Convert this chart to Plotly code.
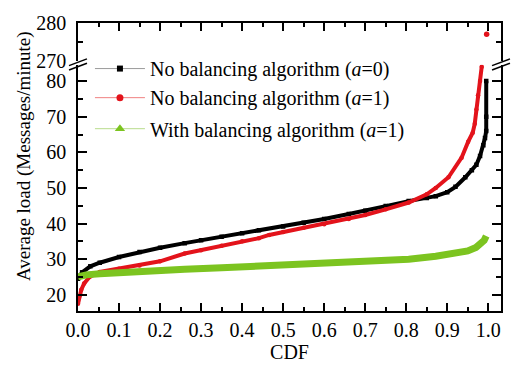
import plotly.graph_objects as go

# ---- data ----
black_cdf = [0.0, 0.01, 0.03, 0.053, 0.1, 0.15, 0.2, 0.26, 0.3, 0.35, 0.4, 0.441, 0.5, 0.55, 0.6,
             0.66, 0.7, 0.75, 0.806, 0.85, 0.872, 0.9, 0.92, 0.944, 0.96, 0.971, 0.98, 0.988,
             0.992, 0.995, 0.995, 0.995]
black_load = [24.5, 26.3, 28.0, 29.0, 30.6, 32.0, 33.2, 34.5, 35.3, 36.3, 37.3, 38.1, 39.2, 40.2, 41.3,
              42.7, 43.6, 44.9, 46.3, 47.2, 47.7, 48.8, 50.3, 53.0, 55.0, 56.5, 59.0, 62.0,
              64.0, 66.0, 70.0, 80.0]

red_cdf = [0.0, 0.003, 0.008, 0.015, 0.028, 0.053, 0.1, 0.15, 0.2, 0.26, 0.3, 0.35, 0.4, 0.441,
           0.466, 0.5, 0.55, 0.6, 0.66, 0.7, 0.75, 0.806, 0.85, 0.872, 0.903, 0.935, 0.951,
           0.962, 0.967, 0.971, 0.975, 0.98, 0.984]
red_load = [17.5, 19.5, 21.4, 23.2, 25.0, 26.4, 27.3, 28.2, 29.4, 31.6, 32.5, 33.8, 35.0, 35.9,
            36.8, 37.6, 38.8, 39.8, 41.3, 42.4, 44.0, 45.9, 48.2, 50.0, 53.0, 58.5, 63.0,
            65.5, 68.0, 72.0, 76.0, 80.0, 84.0]
red_top_cdf = [0.996]
red_top_load = [277.0]

green_cdf = [0.0, 0.02, 0.053, 0.1, 0.2, 0.26, 0.35, 0.441, 0.5, 0.58, 0.66, 0.73, 0.806, 0.872,
             0.92, 0.95, 0.97, 0.98, 0.99, 0.995]
green_load = [25.0, 25.6, 25.9, 26.3, 26.8, 27.2, 27.6, 28.1, 28.4, 28.7, 29.0, 29.4, 30.0, 30.8,
              31.5, 32.3, 33.3, 34.2, 35.3, 36.5]

names = ["No balancing algorithm (<i>a</i>=0)",
         "No balancing algorithm (<i>a</i>=1)",
         "With balancing algorithm (<i>a</i>=1)"]
y_title = "Average load (Messages/minute)"
x_title = "CDF"

x_ticks = [0.0, 0.1, 0.2, 0.3, 0.4, 0.5, 0.6, 0.7, 0.8, 0.9, 1.0]
x_ticklabels = ["0.0", "0.1", "0.2", "0.3", "0.4", "0.5", "0.6", "0.7", "0.8", "0.9", "1.0"]
y_low_ticks = [20, 30, 40, 50, 60, 70, 80]
y_high_ticks = [270, 280]

BLACK = "#000000"
RED = "#e3131b"
GREEN = "#7cc420"
FONT = "Liberation Serif"

W, H = 515, 369
L, R, T, B = 78, 12, 18, 54
PW, PH = W - L - R, H - T - B


def px(xp, yp):
    return (xp - L) / PW, (H - B - yp) / PH


fig = go.Figure()

fig.add_trace(go.Scatter(x=black_cdf, y=black_load, mode="lines+markers",
                         line=dict(color=BLACK, width=4), marker=dict(color=BLACK, size=4.5, symbol="square"),
                         showlegend=False, xaxis="x", yaxis="y"))
fig.add_trace(go.Scatter(x=red_cdf, y=red_load, mode="lines+markers",
                         line=dict(color=RED, width=4), marker=dict(color=RED, size=4.5),
                         showlegend=False, xaxis="x", yaxis="y"))
fig.add_trace(go.Scatter(x=green_cdf, y=green_load, mode="lines",
                         line=dict(color=GREEN, width=7),
                         showlegend=False, xaxis="x", yaxis="y"))
fig.add_trace(go.Scatter(x=red_top_cdf, y=red_top_load, mode="markers",
                         marker=dict(color=RED, size=5.5),
                         showlegend=False, xaxis="x2", yaxis="y2"))

# legend entries (one legend each so that spacing matches)
leg_specs = [(names[0], BLACK, "#9a9a9a", "square", 6, "legend", 65),
             (names[1], RED, "#f08080", "circle", 7, "legend2", 95),
             (names[2], GREEN, "#b8dc8c", "triangle-up", 9, "legend3", 127)]
for nm, col, lcol, sym, sz, lg, ypix in leg_specs:
    fig.add_trace(go.Scatter(x=[None], y=[None], mode="lines+markers", name=nm,
                             line=dict(color=lcol, width=1),
                             marker=dict(color=col, size=sz, symbol=sym),
                             legend=lg, showlegend=True, xaxis="x", yaxis="y"))

legend_common = dict(bgcolor="rgba(0,0,0,0)", borderwidth=0,
                     font=dict(family=FONT, size=20, color="#000"),
                     xanchor="left", yanchor="middle", itemwidth=50)
lx, _ = px(90, 0)
fig.update_layout(
    legend=dict(x=lx, y=px(0, 65)[1], **legend_common),
    legend2=dict(x=lx, y=px(0, 95)[1], **legend_common),
    legend3=dict(x=lx, y=px(0, 127)[1], **legend_common),
)

low_top = px(0, 61)[1]
high_bot = px(0, 57)[1]

axis_common = dict(showline=True, linecolor="#000", linewidth=1.5, ticks="inside",
                   tickcolor="#000", tickwidth=1.5, showgrid=False, zeroline=False,
                   tickfont=dict(family=FONT, size=20, color="#000"))

fig.update_layout(
    width=W, height=H,
    margin=dict(l=L, r=R, t=T, b=B),
    paper_bgcolor="white", plot_bgcolor="white",
    xaxis=dict(domain=[0, 1], anchor="y", range=[0, 1.031], tickvals=x_ticks, ticktext=x_ticklabels,
               ticklen=8, minor=dict(ticks="inside", dtick=0.05, tick0=0, ticklen=4,
                                     tickcolor="#000", tickwidth=1.5),
               title=dict(text=x_title, font=dict(family=FONT, size=20, color="#000"), standoff=2),
               **axis_common),
    xaxis2=dict(domain=[0, 1], anchor="y2", matches="x", side="top", showticklabels=False,
                tickvals=x_ticks, ticklen=8,
                minor=dict(ticks="inside", dtick=0.05, tick0=0, ticklen=4,
                           tickcolor="#000", tickwidth=1.5),
                **axis_common),
    yaxis=dict(domain=[0, low_top], anchor="x", range=[15.45, 84.6], tickvals=y_low_ticks,
               ticklen=9, mirror="ticks", ticklabelstandoff=6,
               minor=dict(ticks="inside", dtick=5, tick0=0, ticklen=5,
                          tickcolor="#000", tickwidth=1.5),
               **axis_common),
    yaxis2=dict(domain=[high_bot, 1], anchor="x2", range=[270, 280], tickvals=y_high_ticks,
                ticklen=9, mirror="ticks", ticklabelstandoff=6,
                minor=dict(ticks="inside", dtick=5, tick0=0, ticklen=5,
                           tickcolor="#000", tickwidth=1.5),
                **axis_common),
)

tx, ty = px(24, 155)
fig.add_annotation(text=y_title, xref="paper", yref="paper", x=tx, y=ty, textangle=-90,
                   showarrow=False, xanchor="center", yanchor="middle",
                   font=dict(family=FONT, size=19, color="#000"))

# axis break marks
shapes = []
for xc in (L, W - R):
    for dy in (0, 4.5):
        x0, y0 = px(xc - 9, 62 + dy)
        x1, y1 = px(xc + 9, 55 + dy)
        shapes.append(dict(type="line", xref="paper", yref="paper", x0=x0, y0=y0, x1=x1, y1=y1,
                           line=dict(color="#000", width=1.5)))
fig.update_layout(shapes=shapes)

fig.write_html("out.html")
